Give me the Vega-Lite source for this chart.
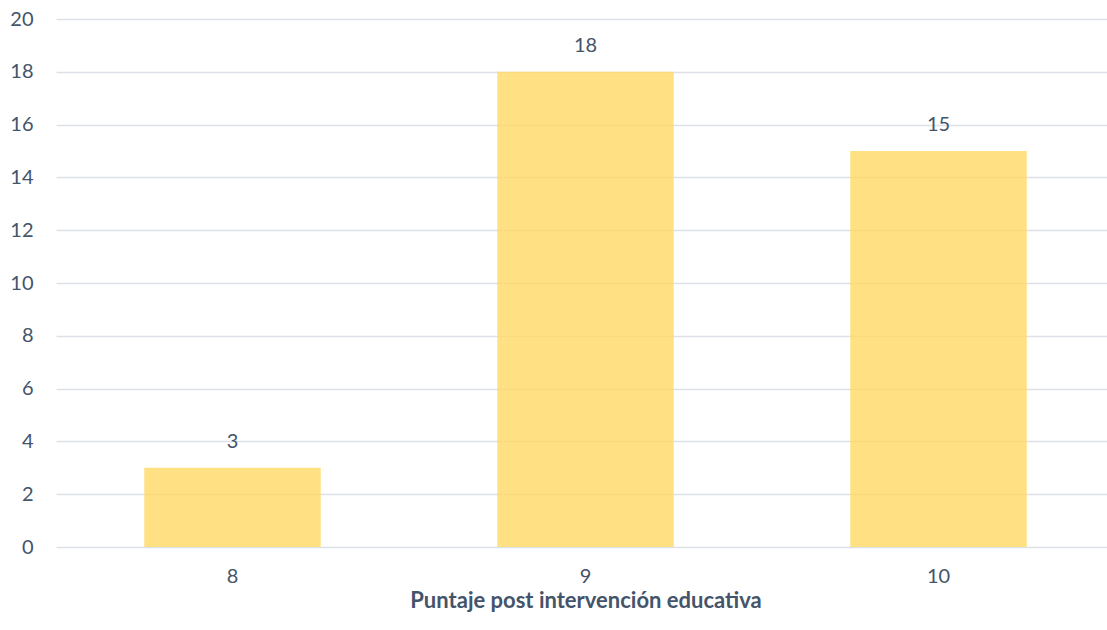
{
  "$schema": "https://vega.github.io/schema/vega-lite/v6.json",
  "autosize": {"type": "none"},
  "padding": {"left": 56, "top": 19, "right": 0, "bottom": 83},
  "width": 1059,
  "height": 528,
  "background": "white",
  "config": {
    "view": {"stroke": null},
    "font": "Lato",
    "axis": {"labelFont": "Lato", "titleFont": "Lato", "labelColor": "#44546A", "titleColor": "#44546A"}
  },
  "data": {"values": [
    {"puntaje": "8", "n": 3},
    {"puntaje": "9", "n": 18},
    {"puntaje": "10", "n": 15}
  ]},
  "encoding": {
    "x": {
      "field": "puntaje", "type": "ordinal", "sort": null,
      "scale": {"paddingInner": 0.5, "paddingOuter": 0.25},
      "axis": {
        "title": "Puntaje post intervención educativa",
        "titleFontSize": 22, "titleFontWeight": "bold", "titlePadding": 4,
        "labelFontSize": 20, "labelAngle": 0, "labelPadding": 19,
        "ticks": false, "domain": false, "grid": false
      }
    },
    "y": {
      "field": "n", "type": "quantitative",
      "scale": {"domain": [0, 20]},
      "axis": {
        "title": null, "values": [0, 2, 4, 6, 8, 10, 12, 14, 16, 18, 20],
        "labelFontSize": 20, "labelPadding": 23, "ticks": false, "domain": false,
        "gridColor": "#DDE1E7", "gridWidth": 1.5
      }
    }
  },
  "layer": [
    {"mark": {"type": "bar", "color": "#FFD966", "opacity": 0.82}},
    {
      "mark": {"type": "text", "baseline": "bottom", "dy": -16, "fontSize": 20, "color": "#44546A", "font": "Lato"},
      "encoding": {"text": {"field": "n", "type": "quantitative"}}
    }
  ]
}
